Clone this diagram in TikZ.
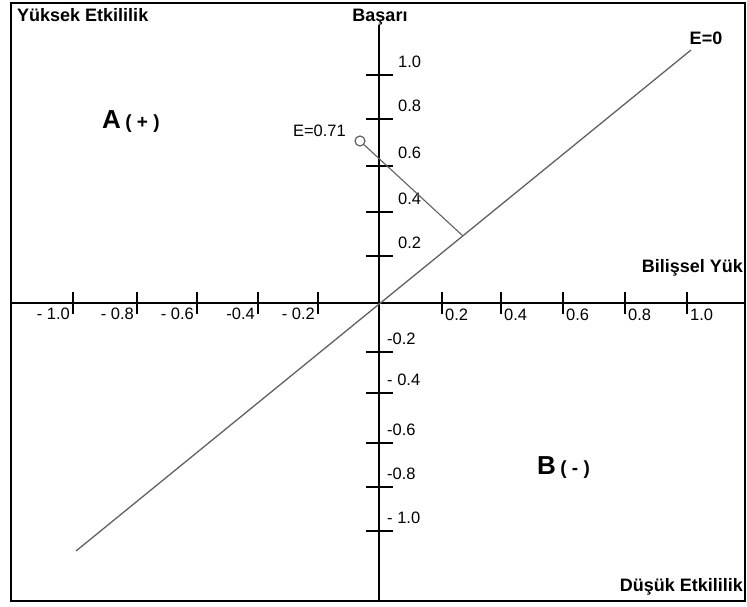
\documentclass[tikz,border=0pt]{standalone}
\usepackage{fontspec}
\setmainfont{Liberation Sans}
\begin{document}
\begin{tikzpicture}[x=1pt,y=-1pt,
  frame/.style={line width=2pt,black},
  axis/.style={line width=2.4pt,black},
  tickmark/.style={line width=2.4pt,black},
  eline/.style={line width=1.3pt,black!62},
  numlab/.style={inner sep=0pt,font=\fontsize{16.5}{18}\selectfont},
  boldlab/.style={inner sep=0pt,font=\fontsize{18}{20}\selectfont\bfseries},
  regionlab/.style={inner sep=0pt,font=\bfseries}]
\useasboundingbox (0,0) rectangle (747,606);
\fill[white] (0,0) rectangle (747,606);
\draw[frame] (11,3) rectangle (745,601);
% axes
\coordinate (xl) at (11,303);
\coordinate (xr) at (745,303);
\coordinate (yt) at (379,25);
\coordinate (yb) at (379,601);
\draw[axis] (xl) -- (xr);
\draw[axis] (yt) -- (yb);
% x ticks negative
\foreach \x/\lab [count=\i] in {73/{- 1.0},137/{- 0.8},197/{- 0.6},258/{-0.4},318/{- 0.2}} {
  \draw[tickmark] (\x,292) -- (\x,314);
  \node[numlab,anchor=east] (xn\i) at (\x-3,314) {\lab};
}
% x ticks positive
\foreach \x/\lab [count=\i] in {442/0.2,501/0.4,563/0.6,625/0.8,687/1.0} {
  \draw[tickmark] (\x,292) -- (\x,314);
  \node[numlab,anchor=west] (xp\i) at (\x+3,315) {\lab};
}
% y ticks positive
\foreach \y/\lab [count=\i] in {75/1.0,119/0.8,166/0.6,212/0.4,256/0.2} {
  \draw[tickmark] (366,\y) -- (393,\y);
  \node[numlab,anchor=west] (yp\i) at (398,\y-13) {\lab};
}
% y ticks negative
\foreach \y/\lab [count=\i] in {352/{-0.2},393/{- 0.4},443/{-0.6},487/{-0.8},531/{- 1.0}} {
  \draw[tickmark] (366,\y) -- (393,\y);
  \node[numlab,anchor=west] (yn\i) at (387,\y-13) {\lab};
}
% E=0 line
\coordinate (ea) at (76,551);
\coordinate (eb) at (691,50);
\draw[eline] (ea) -- (eb);
\node[boldlab] (e0) at (706,38) {E=0};
% E=0.71 point and projection
\node[circle,draw=black!62,line width=1.2pt,minimum size=10pt,inner sep=0pt,fill=white] (pt) at (360,141) {};
\coordinate (foot) at (463,236);
\draw[eline,line width=1.1pt] (pt) -- (foot);
\node[numlab,anchor=east] (e71) at (346,131) {E=0.71};
% axis titles
\node[boldlab,anchor=west] (yuksek) at (17,15) {Yüksek Etkililik};
\node[boldlab] (basari) at (380,17) {Başarı};
\node[boldlab,anchor=east] (bilissel) at (743,268) {Bilişsel Yük};
\node[boldlab,anchor=east] (dusuk) at (743,587) {Düşük Etkililik};
% region labels
\node[regionlab,anchor=west] (regA) at (102,122) {\fontsize{26}{28}\selectfont A\,\fontsize{19}{21}\selectfont ( + )};
\node[regionlab,anchor=west] (regB) at (537,468) {\fontsize{26}{28}\selectfont B\,\fontsize{19}{21}\selectfont ( - )};
\end{tikzpicture}
\end{document}
